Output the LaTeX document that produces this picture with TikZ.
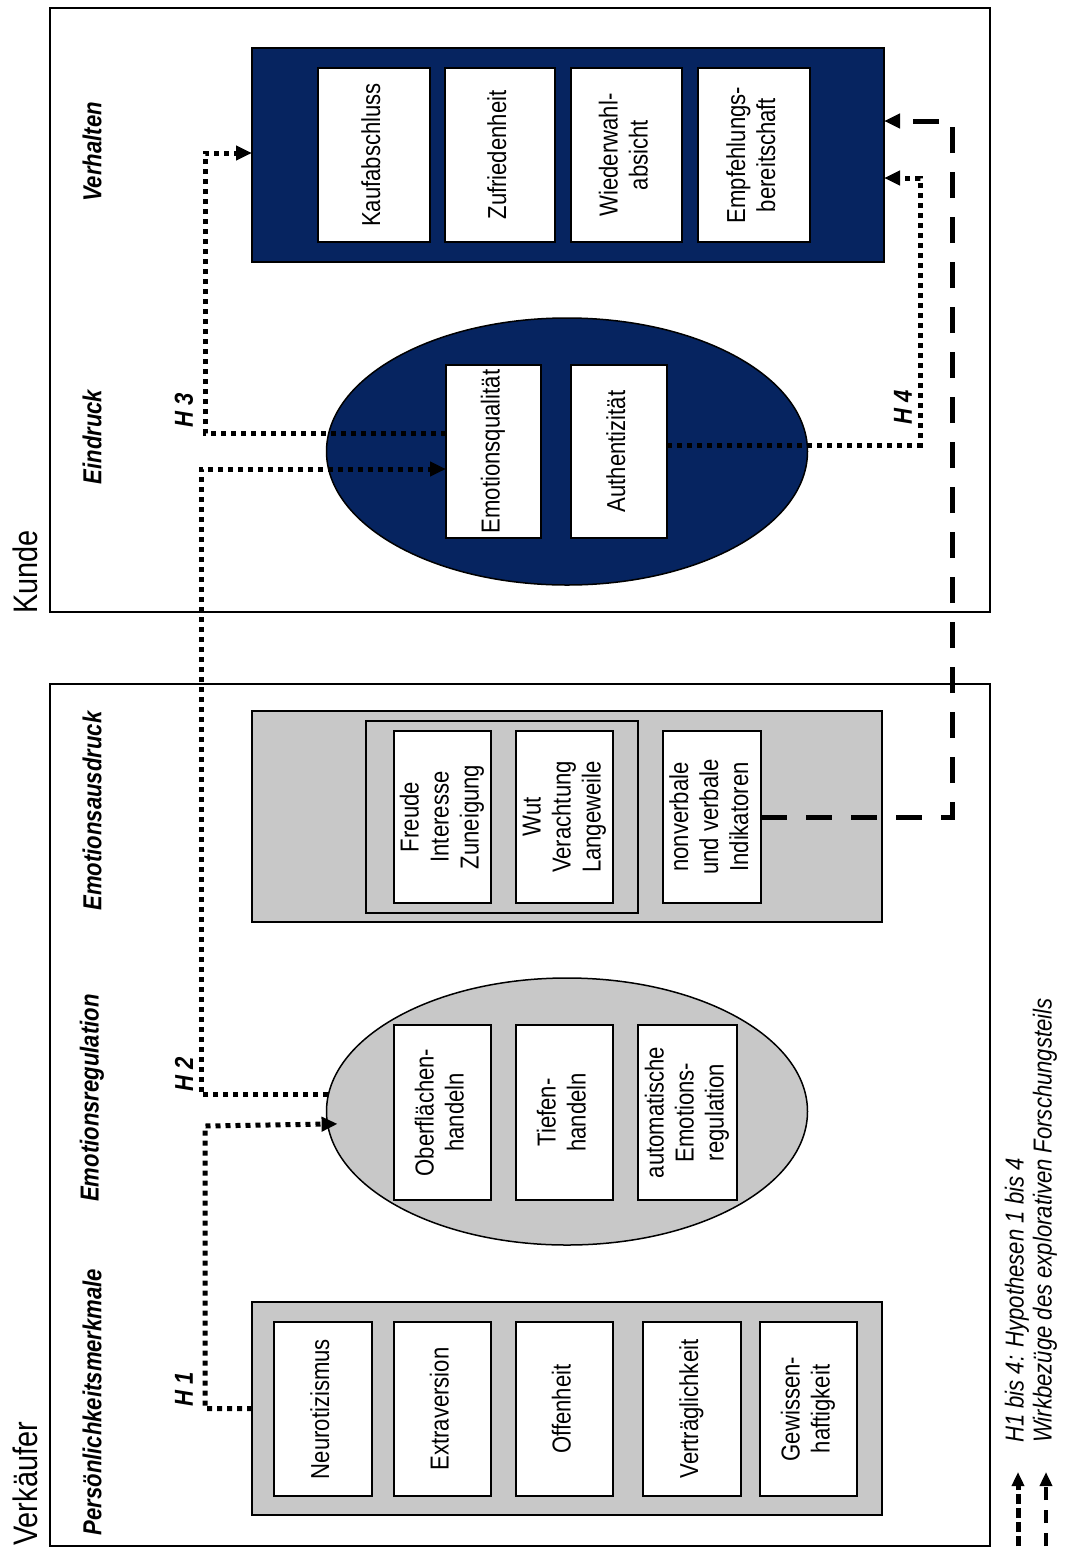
\documentclass[tikz,border=0pt]{standalone}
\usepackage{fontspec}
\setmainfont{Liberation Sans}[FakeStretch=0.85]
\usepackage{graphicx}
\usetikzlibrary{arrows.meta,shapes.geometric}
\definecolor{navy}{RGB}{6,36,96}
\definecolor{lgray}{RGB}{200,200,200}
\newcommand{\rt}[1]{\rotatebox{90}{\begin{tabular}{@{}c@{}}#1\end{tabular}}}
\begin{document}
\begin{tikzpicture}[x=1pt,y=-1pt,
  sz/.style 2 args={minimum width=#1pt, minimum height=#2pt},
  frm/.style={draw=black, line width=1.8pt, inner sep=0pt, outer sep=0pt},
  wbox/.style={draw=black, fill=white, line width=2.2pt, inner sep=0pt, outer sep=0pt, font=\fontsize{26}{30}\selectfont},
  gbox/.style={draw=black, fill=lgray, line width=1.8pt, inner sep=0pt, outer sep=0pt},
  nbox/.style={draw=black, fill=navy, line width=1.5pt, inner sep=0pt, outer sep=0pt},
  ell/.style={ellipse, draw=black, line width=1.5pt, inner sep=0pt, outer sep=0pt},
  lbl/.style={rotate=90, inner sep=0pt, font=\fontsize{26}{30}\selectfont\bfseries\itshape},
  hlbl/.style={rotate=90, anchor=west, inner sep=0pt, font=\fontsize{26}{30}\selectfont\bfseries\itshape},
  side/.style={rotate=90, anchor=west, inner sep=0pt, font=\fontsize{34}{40}\selectfont},
  legt/.style={rotate=90, anchor=west, inner sep=0pt, font=\fontsize{26}{30}\selectfont\itshape},
  dotl/.style={line width=5pt, dash pattern=on 5pt off 5pt},
  dashl/.style={line width=5pt, dash pattern=on 26pt off 19pt},
  arr/.style={-{Triangle[length=16pt,width=14pt]}},
  larr/.style={-{Triangle[length=14pt,width=12pt]}}
]
\useasboundingbox (0,0) rectangle (1067,1550);

% frames
\node[frm, sz={940}{604}] (kframe) at (520,310) {};
\node[frm, sz={940}{862}] (vframe) at (520,1115) {};
\node[side] (kunde) at (25,614) {Kunde};
\node[side] (verk) at (25,1546) {Verkäufer};

% column labels
\node[lbl] (lverh) at (92,152) {Verhalten};
\node[lbl] (leind) at (92,437) {Eindruck};
\node[lbl] (lausd) at (92,811) {Emotionsausdruck};
\node[lbl] (lreg) at (92,1098) {Emotionsregulation};
\node[lbl] (lpers) at (92,1402) {Persönlichkeitsmerkmale};

% Verhalten
\node[nbox, sz={632}{214}] (verh) at (568,155) {};
\node[wbox, sz={112}{174}] (kauf) at (374,155) {\rt{Kaufabschluss}};
\node[wbox, sz={110}{174}] (zufr) at (500,155) {\rt{Zufriedenheit}};
\node[wbox, sz={111}{174}] (wied) at (626.5,155) {\rt{Wiederwahl-\\absicht}};
\node[wbox, sz={112}{174}] (empf) at (754,155) {\rt{Empfehlungs-\\bereitschaft}};

% Eindruck
\node[ell, fill=navy, sz={481}{267}] (eind) at (567,451.5) {};
\node[wbox, sz={95}{173}] (emoq) at (493.5,451.5) {\rt{Emotionsqualität}};
\node[wbox, sz={96}{173}] (auth) at (619,451.5) {\rt{Authentizität}};

% Emotionsausdruck
\node[gbox, sz={630}{211}] (ausd) at (567,816.5) {};
\node[gbox, sz={272}{192}] (grp) at (502,817) {};
\node[wbox, sz={97}{172}] (freu) at (442.5,817) {\rt{Freude\\Interesse\\Zuneigung}};
\node[wbox, sz={97}{172}] (wut) at (564.5,817) {\rt{Wut\\Verachtung\\Langeweile}};
\node[wbox, sz={98}{172}] (indik) at (712,817) {\rt{nonverbale\\und verbale\\Indikatoren}};

% Emotionsregulation
\node[ell, fill=lgray, sz={481}{267}] (ereg) at (567,1111.5) {};
\node[wbox, sz={97}{175}] (oberf) at (442.5,1112.5) {\rt{Oberflächen-\\handeln}};
\node[wbox, sz={97}{175}] (tief) at (564.5,1112.5) {\rt{Tiefen-\\handeln}};
\node[wbox, sz={99}{175}] (auto) at (687.5,1112.5) {\rt{automatische\\Emotions-\\regulation}};

% Persoenlichkeit
\node[gbox, sz={630}{213}] (pers) at (567,1408.5) {};
\node[wbox, sz={98}{174}] (neur) at (323,1409) {\rt{Neurotizismus}};
\node[wbox, sz={97}{174}] (extr) at (442.5,1409) {\rt{Extraversion}};
\node[wbox, sz={97}{174}] (offe) at (564.5,1409) {\rt{Offenheit}};
\node[wbox, sz={98}{174}] (vert) at (692,1409) {\rt{Verträglichkeit}};
\node[wbox, sz={97}{174}] (gewi) at (808.5,1409) {\rt{Gewissen-\\haftigkeit}};

% helper coordinates
\coordinate (c153) at (0,153);
\coordinate (c178) at (0,178);
\coordinate (c121) at (0,121);

% connectors
\draw[dotl, arr, shorten >=-10pt] (pers.west) -| (205,1126) -- (ereg.183.5);
\draw[dotl, arr] (ereg.176) -| (201,469) -- ([yshift=-17.5pt]emoq.west);
\draw[dotl, arr] ([yshift=18.5pt]emoq.west) -| (205,153) -- (verh.west |- c153);
\draw[dotl, arr] ([yshift=6.5pt]auth.east) -| (920,178) -- (verh.east |- c178);
\draw[dashl, arr] (indik.east) -| (952,121) -- (verh.east |- c121);

% H labels
\node[hlbl] (h1) at (184,1407) {H 1};
\node[hlbl] (h2) at (184,1092) {H 2};
\node[hlbl] (h3) at (184,428) {H 3};
\node[hlbl] (h4) at (903,425) {H 4};

% legend
\coordinate (lg1s) at (1018,1546);
\coordinate (lg1e) at (1018,1472);
\coordinate (lg2s) at (1046,1546);
\coordinate (lg2e) at (1046,1472);
\draw[line width=5pt, dash pattern=on 10pt off 4pt, larr] (lg1s) -- (lg1e);
\draw[line width=4pt, dash pattern=on 13pt off 10pt, larr] (lg2s) -- (lg2e);
\node[legt] (leg1) at (1017,1443) {H1 bis 4: Hypothesen 1 bis 4};
\node[legt] (leg2) at (1045,1443) {Wirkbezüge des explorativen Forschungsteils};
\end{tikzpicture}
\end{document}
